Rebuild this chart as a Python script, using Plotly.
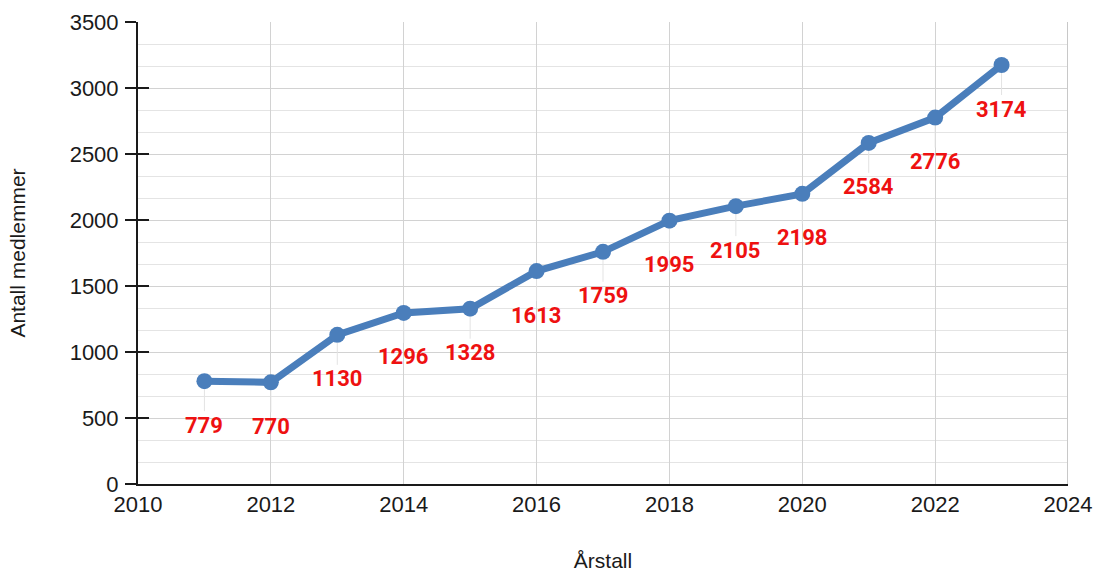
import plotly.graph_objects as go

years = [2011, 2012, 2013, 2014, 2015, 2016, 2017, 2018, 2019, 2020, 2021, 2022, 2023]
members = [779, 770, 1130, 1296, 1328, 1613, 1759, 1995, 2105, 2198, 2584, 2776, 3174]
x_title = "Årstall"
y_title = "Antall medlemmer"

LINE = "#4a7ebb"
AX_FONT = dict(family="Liberation Sans, Arial, sans-serif", size=22, color="#1a1a1a")
TITLE_FONT = dict(family="Liberation Sans, Arial, sans-serif", size=21, color="#1a1a1a")

fig = go.Figure()
fig.add_trace(go.Scatter(
    x=years, y=members, mode="lines+markers",
    line=dict(color=LINE, width=7),
    marker=dict(color=LINE, size=16),
    hoverinfo="x+y", showlegend=False,
))

for xv, yv in zip(years, members):
    fig.add_annotation(
        x=xv, y=yv, xref="x", yref="y",
        text=f"<b>{yv}</b>", showarrow=True, arrowhead=0, arrowwidth=1,
        arrowcolor="#e3e3e3", ax=0, ay=44, standoff=8,
        font=dict(family="Roboto, sans-serif", size=22, color="#ee1111"),
    )

fig.update_layout(
    width=1094, height=572,
    margin=dict(l=138, r=26, t=22, b=88),
    paper_bgcolor="white", plot_bgcolor="white",
    xaxis=dict(
        range=[2010, 2024], dtick=2, tick0=2010, automargin=False,
        showgrid=True, gridcolor="#d2d2d2", gridwidth=1,
        showline=True, linecolor="#1a1a1a", linewidth=2,
        ticks="", tickfont=AX_FONT, zeroline=False,
        title=dict(text=x_title, font=TITLE_FONT, standoff=37),
        mirror=False, ticklabeloverflow="allow",
    ),
    yaxis=dict(
        range=[0, 3500], dtick=500, tick0=0, automargin=False,
        showgrid=True, gridcolor="#d2d2d2", gridwidth=1,
        showline=True, linecolor="#1a1a1a", linewidth=2,
        ticks="outside", ticklen=11, tickwidth=2, tickcolor="#1a1a1a",
        tickfont=AX_FONT, zeroline=False,
        minor=dict(dtick=500 / 3, tick0=0, showgrid=True, gridcolor="#e4e4e4", gridwidth=1),
        title=dict(text=y_title, font=TITLE_FONT, standoff=38),
        ticklabelstandoff=2,
    ),
    yaxis2=dict(
        range=[0, 3500], dtick=500, tick0=0, overlaying="y", side="left",
        showgrid=False, showticklabels=False, zeroline=False, automargin=False,
        ticks="inside", ticklen=11, tickwidth=2, tickcolor="#1a1a1a",
    ),
    shapes=[dict(type="line", xref="x", yref="paper", x0=2024, x1=2024, y0=0, y1=1,
                 line=dict(color="#c8c8c8", width=2))],
)
fig.add_trace(go.Scatter(x=[None], y=[None], yaxis="y2", showlegend=False, hoverinfo="skip"))

fig.write_html(
    "out.html",
    config={"displayModeBar": False},
    post_script="document.body.style.margin='0';document.body.style.overflow='hidden';",
)
